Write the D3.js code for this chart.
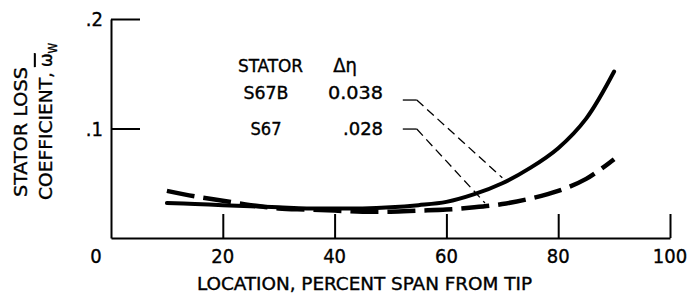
<!DOCTYPE html>
<html>
<head>
<meta charset="utf-8">
<script src="https://cdn.jsdelivr.net/npm/d3@7"></script>
<style>
    body { margin: 0; background: #fff; }
    text { font-family: "DejaVu Sans Condensed", "Liberation Sans Narrow", sans-serif; fill: #000; stroke: #000; stroke-width: 0.35; }
</style>
</head>
<body>
<div id="chart"></div>
<script>
// percent span from tip
const span = [10, 15, 20, 25, 30, 35, 40, 45, 50, 55, 60, 65, 70, 75, 80, 85, 90]
// S67B (solid) and S67 (dashed) loss coefficients
const lossS67B = [.032, .031, .030, .029, .028, .027, .027, .027, .028, .030, .033, .040, .050, .064, .082, .109, .152]
const lossS67 = [.043, .038, .034, .030, .027, .026, .025, .024, .024, .025, .026, .028, .031, .036, .043, .054, .072]

const xTicks = [20, 40, 60, 80, 100]
const yTicks = [.1, .2]

const legendRows = [
    {name: 'S67B', eff: '0.038', nameLen: 45, effLen: 55, leader: [[52.2, .126], [54.7, .126], [70, .055]]},
    {name: 'S67', eff: '.028', nameLen: 31, effLen: 40, leader: [[52.2, .0995], [54.7, .0995], [66.9, .032]]},
]

const width = 689, height = 297
let margin = ({top: 19, right: 19, bottom: 59, left: 111})

const svg = d3.select('#chart').append('svg')
    .attr('width', width)
    .attr('height', height)

let xScale = d3.scaleLinear()
    .domain([0, 100])
    .range([margin.left, width - margin.right])
let yScale = d3.scaleLinear()
    .domain([0, .2])
    .range([height - margin.bottom, margin.top])

// axes: ticks point inward
const xAxis = d3.axisTop(xScale)
    .tickValues(xTicks)
    .tickSize(24)
    .tickSizeOuter(0)
    .tickFormat('')
const yAxis = d3.axisRight(yScale)
    .tickValues(yTicks)
    .tickSize(29)
    .tickSizeOuter(0)
    .tickFormat('')

svg.append('g')
    .attr('transform', `translate(0, ${yScale(0)})`)
    .call(xAxis)
svg.append('g')
    .attr('transform', `translate(${xScale(0)}, 0)`)
    .call(yAxis)
svg.selectAll('.domain, .tick line')
    .attr('stroke', '#000')
    .attr('stroke-width', 2)

// tick labels
svg.selectAll('.xlab')
    .data([0].concat(xTicks))
    .enter().append('text')
    .attr('x', d => d === 0 ? xScale(0) - 15 : xScale(d))
    .attr('y', yScale(0) + 25)
    .attr('text-anchor', 'middle')
    .attr('font-size', 20)
    .text(d => d)

svg.selectAll('.ylab')
    .data(yTicks)
    .enter().append('text')
    .attr('x', xScale(0) - 8)
    .attr('y', d => yScale(d) + 7)
    .attr('text-anchor', 'end')
    .attr('font-size', 20)
    .text(d => d3.format('.1f')(d).replace(/^0/, ''))

// axis titles
svg.append('text')
    .attr('x', 197)
    .attr('y', 290)
    .attr('font-size', 18)
    .attr('textLength', 335)
    .attr('lengthAdjust', 'spacingAndGlyphs')
    .text('LOCATION, PERCENT SPAN FROM TIP')

svg.append('text')
    .attr('transform', 'translate(27, 197) rotate(-90)')
    .attr('font-size', 18)
    .attr('textLength', 130)
    .attr('lengthAdjust', 'spacingAndGlyphs')
    .text('STATOR LOSS')

const ytitle = svg.append('text')
    .attr('transform', 'translate(52, 200) rotate(-90)')
    .attr('font-size', 18)
ytitle.append('tspan')
    .attr('textLength', 128)
    .attr('lengthAdjust', 'spacingAndGlyphs')
    .text('COEFFICIENT,')
ytitle.append('tspan').attr('dx', 5).attr('text-decoration', 'overline').text('\u03c9')
ytitle.append('tspan').attr('font-size', 12).attr('dy', 5).text('W')

// curves
const line = d3.line()
    .x((d, i) => xScale(span[i]))
    .y(d => yScale(d))
    .curve(d3.curveCatmullRom)

svg.append('path')
    .datum(lossS67B)
    .attr('fill', 'none')
    .attr('stroke', '#000')
    .attr('stroke-width', 4)
    .attr('stroke-linecap', 'round')
    .attr('d', line)

svg.append('path')
    .datum(lossS67)
    .attr('fill', 'none')
    .attr('stroke', '#000')
    .attr('stroke-width', 4.5)
    .attr('stroke-dasharray', '28,9')
    .attr('d', line)

// legend
svg.append('text')
    .attr('x', 238).attr('y', 72)
    .attr('font-size', 18)
    .attr('textLength', 65)
    .attr('lengthAdjust', 'spacingAndGlyphs')
    .text('STATOR')
svg.append('text')
    .attr('x', 345).attr('y', 72)
    .attr('text-anchor', 'middle')
    .attr('font-size', 20)
    .text('\u0394\u03b7')

legendRows.forEach((row, i) => {
    const ty = 99 + i * 36
    svg.append('text')
        .attr('x', 266 - row.nameLen / 2).attr('y', ty)
        .attr('font-size', 18)
        .attr('textLength', row.nameLen)
        .attr('lengthAdjust', 'spacingAndGlyphs')
        .text(row.name)
    svg.append('text')
        .attr('x', 383 - row.effLen).attr('y', ty)
        .attr('font-size', 18)
        .attr('textLength', row.effLen)
        .attr('lengthAdjust', 'spacingAndGlyphs')
        .text(row.eff)

    const pts = row.leader.map(p => [xScale(p[0]), yScale(p[1])])
    svg.append('path')
        .attr('d', d3.line()(pts.slice(0, 2)))
        .attr('stroke', '#000')
        .attr('stroke-width', 1.3)
    svg.append('path')
        .attr('d', d3.line()(pts.slice(1)))
        .attr('fill', 'none')
        .attr('stroke', '#000')
        .attr('stroke-width', 1.3)
        .attr('stroke-dasharray', '9,5')
})
</script>
</body>
</html>
